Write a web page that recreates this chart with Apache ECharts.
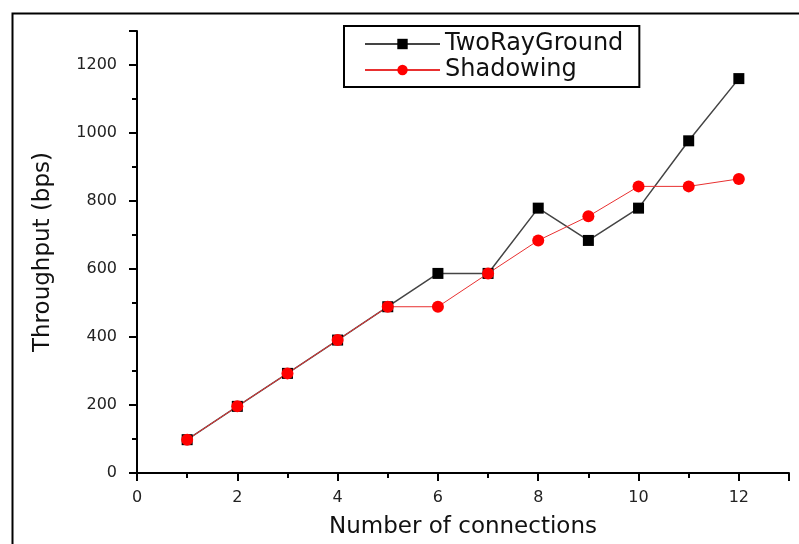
<!DOCTYPE html>
<html>
<head>
<meta charset="utf-8">
<script src="https://cdn.jsdelivr.net/npm/echarts@6/dist/echarts.min.js"></script>
<style>
  html, body { margin: 0; padding: 0; background: #fff; }
  #main { width: 799px; height: 544px; }
</style>
</head>
<body>
<div id="main"></div>
<script>
var connections = [1, 2, 3, 4, 5, 6, 7, 8, 9, 10, 11, 12];
var twoRayGround = [98, 196, 293, 391, 489, 587, 587, 779, 684, 779, 977, 1160];
var shadowing = [98, 196, 293, 391, 489, 489, 587, 684, 755, 843, 843, 865];

function pairs(xs, ys) {
    return xs.map(function (x, i) { return [x, ys[i]]; });
}
function plain(v) { return String(v); }

var dom = document.getElementById("main");
var myChart = echarts.init(dom);
var font = 'DejaVu Sans, Arial, sans-serif';

option = {
    animation: false,
    textStyle: { fontFamily: font },
    // outer frame of the picture (right and bottom run off the edge)
    graphic: [{
        type: 'rect',
        left: 10, top: 11,
        shape: { width: 900, height: 900 },
        style: { fill: 'none', stroke: '#000', lineWidth: 2 },
        silent: true
    }],
    legend: {
        left: 344,
        top: 26,
        orient: 'vertical',
        borderColor: '#000',
        borderWidth: 2,
        padding: [6, 16, 5, 20],
        itemGap: 2,
        itemWidth: 75,
        itemHeight: 13,
        textStyle: { fontSize: 24, color: '#111', fontFamily: font },
        data: ['TwoRayGround', 'Shadowing']
    },
    grid: {
        left: 137,
        right: 10,
        top: 31,
        bottom: 71,
        outerBoundsMode: 'none'
    },
    xAxis: {
        type: 'value',
        min: 0,
        max: 13,
        interval: 2,
        name: 'Number of connections',
        nameLocation: 'middle',
        nameGap: 43,
        nameTextStyle: { fontSize: 23, color: '#111' },
        axisLine: { lineStyle: { color: '#000', width: 2 } },
        axisTick: { length: 8, lineStyle: { width: 2 } },
        minorTick: { show: true, splitNumber: 2, length: 5, lineStyle: { color: '#000', width: 2 } },
        splitLine: { show: false },
        axisLabel: { fontSize: 16, color: '#222', margin: 17, showMaxLabel: false, formatter: plain }
    },
    yAxis: {
        type: 'value',
        min: 0,
        max: 1300,
        interval: 200,
        name: 'Throughput (bps)',
        nameLocation: 'middle',
        nameGap: 82,
        nameTextStyle: { fontSize: 23, color: '#111' },
        axisLine: { show: true, lineStyle: { color: '#000', width: 2 } },
        axisTick: { show: true, length: 8, lineStyle: { width: 2 } },
        minorTick: { show: true, splitNumber: 2, length: 5, lineStyle: { color: '#000', width: 2 } },
        splitLine: { show: false },
        axisLabel: { fontSize: 16, color: '#222', margin: 20, showMaxLabel: false, formatter: plain }
    },
    series: [
        {
            name: 'TwoRayGround',
            type: 'line',
            data: pairs(connections, twoRayGround),
            symbol: 'rect',
            symbolSize: 11,
            lineStyle: { color: '#444', width: 1.5 },
            itemStyle: { color: '#000' }
        },
        {
            name: 'Shadowing',
            type: 'line',
            data: pairs(connections, shadowing),
            symbol: 'circle',
            symbolSize: 12,
            lineStyle: { color: '#e83030', width: 1 },
            itemStyle: { color: '#ff0000' }
        }
    ]
};

myChart.setOption(option);
</script>
</body>
</html>
